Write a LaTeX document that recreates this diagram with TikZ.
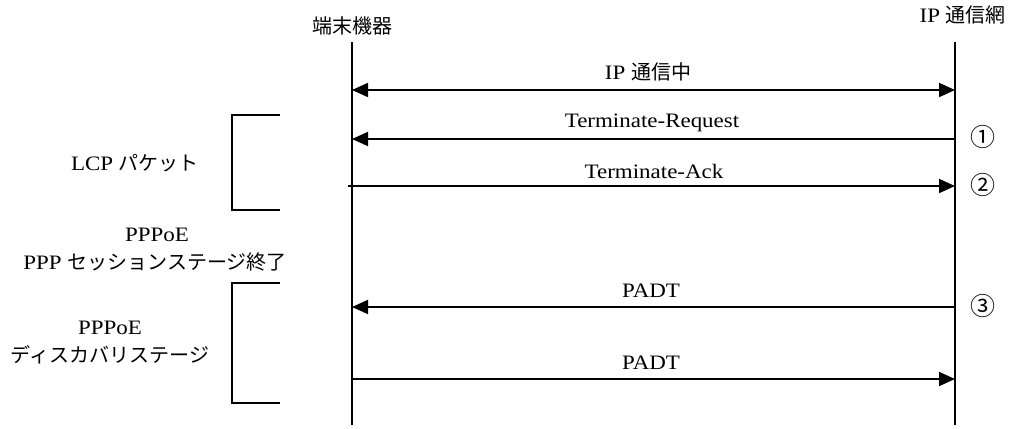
\documentclass[tikz,border=0pt]{standalone}
\usepackage{fontspec}
\setmainfont[FakeStretch=1.12]{Liberation Serif}
\newfontfamily\jpfont{Noto Sans CJK JP}[Scale=1.0]
\newcommand{\jp}[1]{{\jpfont\fontsize{20}{24}\selectfont #1}}
\newcommand{\circnum}[1]{{\jpfont\fontsize{25}{28}\selectfont #1}}
\usetikzlibrary{arrows.meta}
\begin{document}
\begin{tikzpicture}[x=1pt,y=-1pt,
  lbl/.style={inner sep=0pt,font=\fontsize{20.5}{24}\selectfont},
  lifeline/.style={line width=1.6pt},
  msg/.style={line width=1.8pt,-{Triangle[length=16pt,width=14pt]}},
  dmsg/.style={line width=1.8pt,{Triangle[length=16pt,width=14pt]}-{Triangle[length=16pt,width=14pt]}},
  brk/.style={line width=1.5pt}]
\useasboundingbox (0,0) rectangle (1011,428);
% lifelines
\coordinate (Ltop) at (352,42); \coordinate (Lbot) at (352,425);
\coordinate (Rtop) at (955,42); \coordinate (Rbot) at (955,425);
\draw[lifeline] (Ltop) -- (Lbot);
\draw[lifeline] (Rtop) -- (Rbot);
\node[lbl] (hL) at (352,26) {\jp{端末機器}};
\node[lbl,anchor=east] (hR) at (1006,15) {IP \jp{通信網}};
% message points
\coordinate (L1) at (352,90);  \coordinate (R1) at (955,90);
\coordinate (L2) at (352,139); \coordinate (R2) at (955,139);
\coordinate (L3) at (348,186); \coordinate (R3) at (955,186);
\coordinate (L4) at (352,307); \coordinate (R4) at (955,307);
\coordinate (L5) at (352,379); \coordinate (R5) at (955,379);
\draw[dmsg] (L1) -- (R1);
\draw[msg] (R2) -- (L2);
\draw[msg] (L3) -- (R3);
\draw[msg] (R4) -- (L4);
\draw[msg] (L5) -- (R5);
\node[lbl] (m1) at (648,72) {IP \jp{通信中}};
\node[lbl] (m2) at (652,123) {Terminate-Request};
\node[lbl] (m3) at (654,171) {Terminate-Ack};
\node[lbl] (m4) at (651,291) {PADT};
\node[lbl] (m5) at (651,363) {PADT};
% circled numbers
\node[lbl] (c1) at (983,137) {\circnum{①}};
\node[lbl] (c2) at (983,185) {\circnum{②}};
\node[lbl] (c3) at (983,306) {\circnum{③}};
% brackets
\coordinate (b1a) at (280,115); \coordinate (b1b) at (232,115);
\coordinate (b1c) at (232,210); \coordinate (b1d) at (280,210);
\draw[brk] (b1a) -- (b1b) -- (b1c) -- (b1d);
\coordinate (b2a) at (280,283); \coordinate (b2b) at (232,283);
\coordinate (b2c) at (232,403); \coordinate (b2d) at (280,403);
\draw[brk] (b2a) -- (b2b) -- (b2c) -- (b2d);
% side labels
\node[lbl] (s1) at (135,163) {LCP \jp{パケット}};
\node[lbl] (s2) at (157,235) {PPPoE};
\node[lbl] (s3) at (155,262) {PPP \jp{セッションステージ終了}};
\node[lbl] (s4) at (110,328) {PPPoE};
\node[lbl] (s5) at (110,355) {\jp{ディスカバリステージ}};
\end{tikzpicture}
\end{document}
